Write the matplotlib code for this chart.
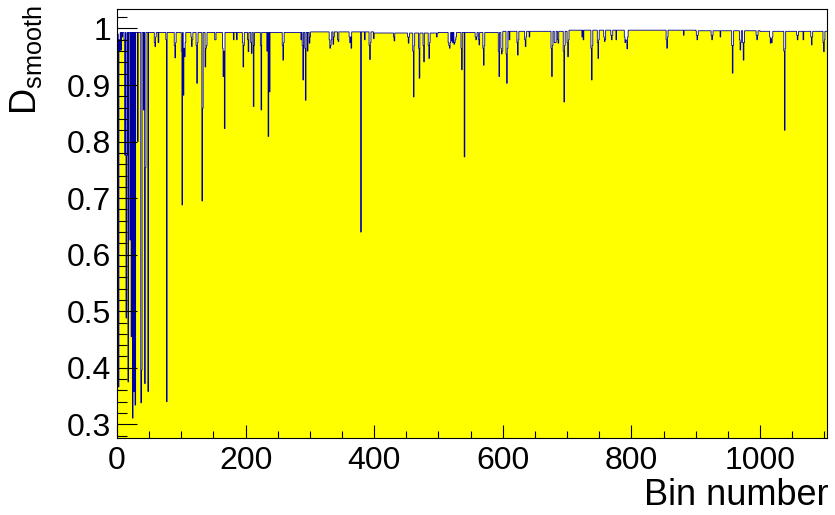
import matplotlib
matplotlib.use('Agg')
import matplotlib.pyplot as plt
from matplotlib.ticker import MultipleLocator, FuncFormatter
import numpy as np

plt.rcParams['font.family'] = ['Liberation Sans', 'DejaVu Sans']
plt.rcParams['mathtext.default'] = 'regular'

n_bins = 1105

# baseline level of the smoothed curve, read per range of bins
level_starts = [0, 100, 200, 300, 400, 500, 600, 700, 800, 900, 1000]
level_values = [0.993, 0.993, 0.993, 0.994, 0.992, 0.993, 0.995, 0.997, 0.997, 0.996, 0.995]

# bins that fall below the baseline (deep and shallow dips)
dip_bins = [
    1, 2, 3, 4, 6, 8, 11, 12, 14, 15, 17, 20, 22, 24, 26, 28, 32, 37, 38,
    41, 43, 44, 48, 58, 59, 64, 76, 77, 90, 101, 103, 105, 106, 116, 124,
    132, 133, 137, 139, 152, 153, 165, 167, 181, 186, 196, 204, 209, 212,
    224, 233, 235, 237, 258, 286, 289, 293, 296, 299, 331, 332, 336, 343,
    344, 362, 364, 379, 385, 393, 399, 431, 453, 461, 470, 477, 485, 497,
    515, 517, 526, 536, 540, 558, 563, 570, 594, 598, 606, 610, 623, 635,
    641, 676, 681, 686, 695, 701, 723, 725, 738, 748, 758, 759, 769, 776,
    790, 793, 855, 881, 902, 925, 938, 957, 969, 974, 995, 1016, 1018,
    1038, 1058, 1067, 1080, 1099,
]
dip_values = [
    0.990, 0.366, 0.980, 0.960, 0.962, 0.985, 0.980, 0.776, 0.488, 0.776,
    0.375, 0.626, 0.455, 0.311, 0.358, 0.334, 0.800, 0.338, 0.396,
    0.856, 0.372, 0.754, 0.358, 0.975, 0.968, 0.975, 0.980, 0.340, 0.948,
    0.688, 0.882, 0.950, 0.975, 0.968, 0.903,
    0.695, 0.859, 0.932, 0.970, 0.980, 0.980, 0.915, 0.823, 0.980, 0.980,
    0.932, 0.959, 0.956, 0.862,
    0.856, 0.960, 0.809, 0.888, 0.944, 0.980, 0.909, 0.873, 0.960, 0.974,
    0.965, 0.970, 0.972, 0.980,
    0.977, 0.975, 0.965, 0.640, 0.980, 0.945, 0.982, 0.978, 0.974, 0.879,
    0.912, 0.941, 0.947, 0.985,
    0.975, 0.965, 0.980, 0.927, 0.773, 0.980, 0.971, 0.935, 0.915, 0.955,
    0.903, 0.980, 0.953, 0.968,
    0.985, 0.915, 0.975, 0.974, 0.870, 0.950, 0.985, 0.980, 0.909, 0.947,
    0.977, 0.980, 0.980, 0.980,
    0.975, 0.964, 0.965, 0.988, 0.980, 0.980, 0.985, 0.921, 0.962, 0.944,
    0.980, 0.974, 0.975,
    0.820, 0.980, 0.980, 0.971, 0.959,
]

# neighbouring bins on the rounded edges of the dips
shoulder_bins = [
    60, 89, 91, 100, 104, 115, 117, 123, 125, 138,
    164, 166, 195, 197, 203, 208, 213, 223, 257, 259,
    288, 292, 300, 330, 333, 337, 361, 363, 392, 394,
    430, 452, 454, 460, 462, 469, 476, 484, 486, 516,
    518, 520, 522, 524, 525, 527, 535, 557, 559, 562,
    569, 571, 593, 597, 599, 605, 607, 622, 624, 634,
    636, 675, 677, 680, 682, 685, 694, 696, 700, 702,
    737, 739, 747, 749, 757, 768, 770, 789, 791, 792,
    794, 854, 856, 901, 903, 924, 926, 956, 958, 968,
    970, 973, 975, 994, 996, 1015, 1017, 1019, 1037, 1039,
    1057, 1059, 1079, 1081, 1098, 1100,
]
shoulder_values = [
    0.985, 0.970, 0.975, 0.960, 0.965, 0.985, 0.980, 0.970, 0.975, 0.965,
    0.965, 0.960, 0.975, 0.970, 0.980, 0.975, 0.970, 0.970, 0.970, 0.975,
    0.970, 0.965, 0.985, 0.980, 0.980, 0.985, 0.985, 0.985, 0.970, 0.975,
    0.985, 0.985, 0.985, 0.960, 0.970, 0.965, 0.970, 0.970, 0.975, 0.970,
    0.975, 0.978, 0.975, 0.972, 0.975, 0.985, 0.965, 0.985, 0.985, 0.980,
    0.965, 0.970, 0.960, 0.965, 0.960, 0.955, 0.965, 0.975, 0.980, 0.980,
    0.985, 0.965, 0.970, 0.975, 0.975, 0.980, 0.960, 0.970, 0.975, 0.980,
    0.965, 0.970, 0.975, 0.980, 0.985, 0.988, 0.988, 0.985, 0.980, 0.978,
    0.985, 0.980, 0.985, 0.988, 0.988, 0.988, 0.988, 0.970, 0.970, 0.980,
    0.975, 0.975, 0.975, 0.988, 0.988, 0.985, 0.982, 0.985, 0.960, 0.965,
    0.988, 0.988, 0.985, 0.985, 0.975, 0.980,
]

x_ticks = [0, 200, 400, 600, 800, 1000]
y_ticks = [0.3, 0.4, 0.5, 0.6, 0.7, 0.8, 0.9, 1.0]

values = np.empty(n_bins)
for start, end, level in zip(level_starts, level_starts[1:] + [n_bins], level_values):
    values[start:end] = level
values[shoulder_bins] = shoulder_values
values[dip_bins] = dip_values
edges = np.arange(n_bins + 1)

fig = plt.figure(figsize=(8.35, 5.15), dpi=100)
ax = fig.add_axes([0.1401, 0.1497, 0.8509, 0.8334])

ax.stairs(values, edges, baseline=0, fill=True, color='#ffff00', lw=0)
ax.stairs(values, edges, baseline=None, color='#0000a0', lw=0.6)

ax.set_xlim(0, n_bins)
ax.set_ylim(0.276, 1.035)

ax.set_xticks(x_ticks)
ax.set_yticks(y_ticks)
ax.xaxis.set_minor_locator(MultipleLocator(50))
ax.yaxis.set_minor_locator(MultipleLocator(0.02))
ax.yaxis.set_major_formatter(FuncFormatter(lambda v, p: f'{v:g}'))

ax.tick_params(which='both', direction='in', top=False, right=False, width=0.8, labelsize=23)
ax.tick_params(axis='y', which='major', length=14.4, pad=4)
ax.tick_params(axis='y', which='minor', length=7.5)
ax.tick_params(axis='x', which='major', length=9.5, pad=6)
ax.tick_params(axis='x', which='minor', length=5)

for spine in ax.spines.values():
    spine.set_linewidth(0.8)

fig.text(8 / 835, 1 - 5 / 515, r'D$_{smooth}$', rotation=90, ha='left', va='top', fontsize=26)
fig.text(829 / 835, 1 - 505 / 515, 'Bin number', ha='right', va='baseline', fontsize=26)

fig.savefig('out.png', dpi=100)
